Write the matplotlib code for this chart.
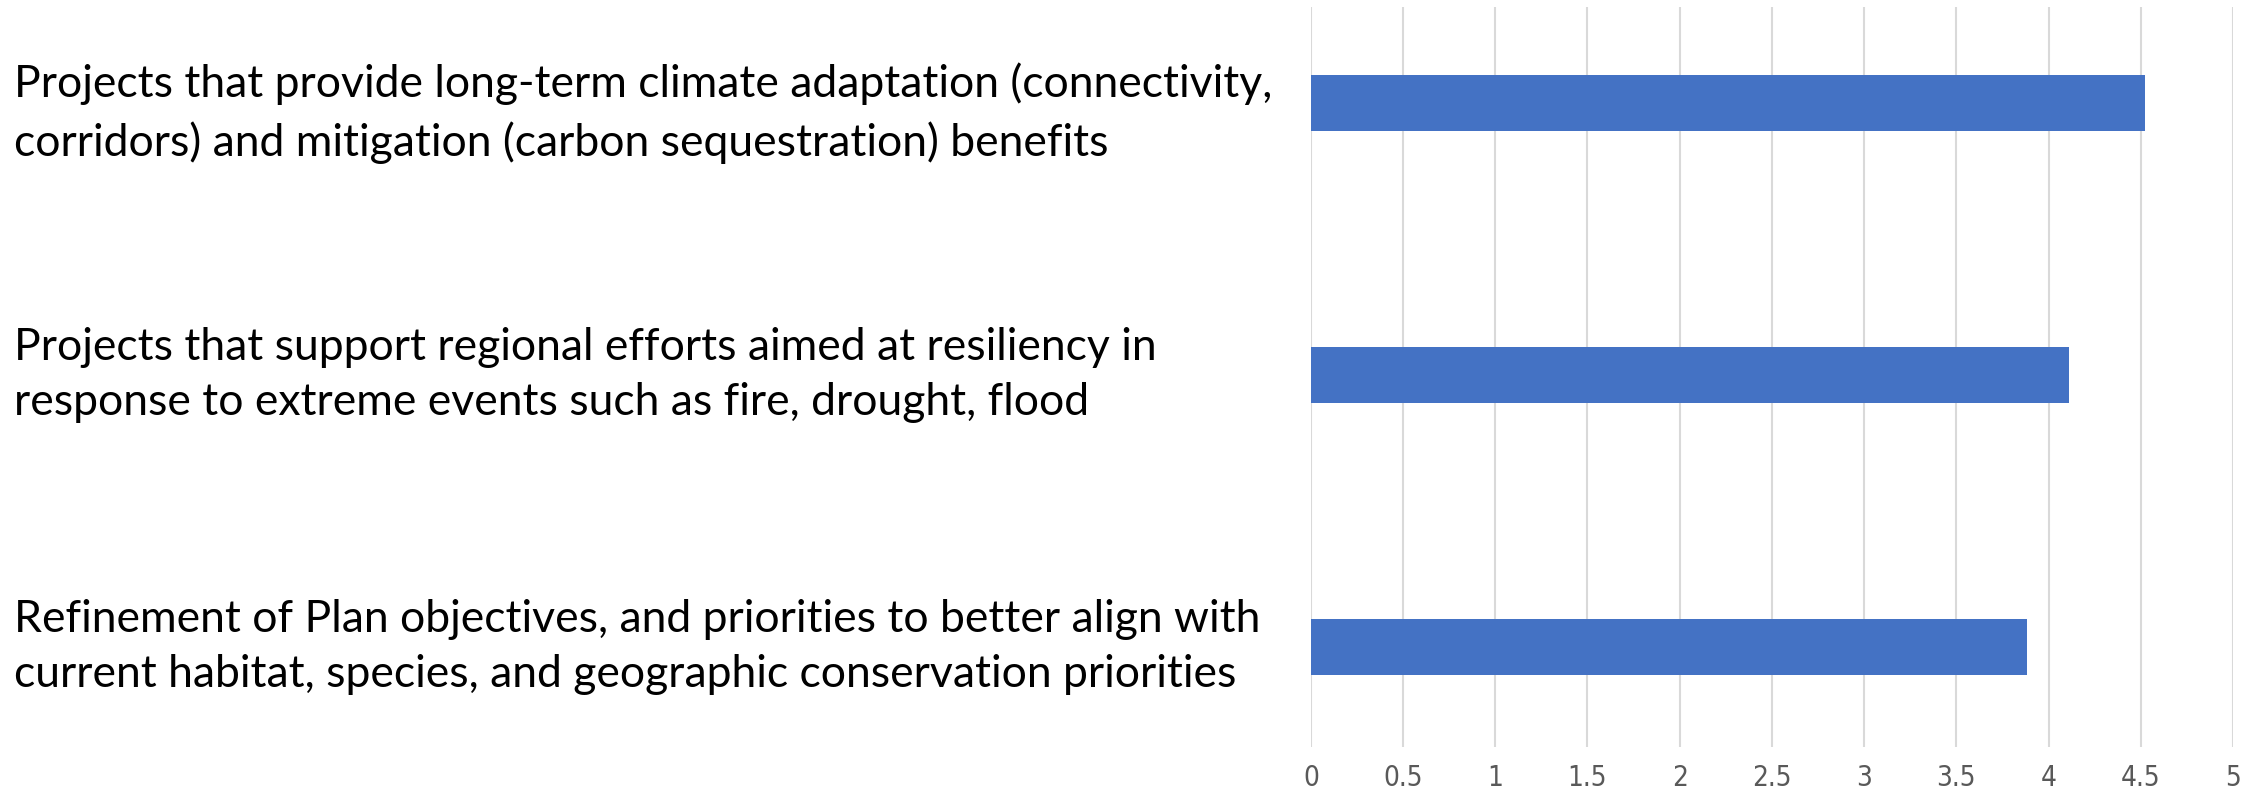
import matplotlib.pyplot as plt
from matplotlib import font_manager
from matplotlib.font_manager import FontProperties
from matplotlib.transforms import blended_transform_factory, ScaledTranslation

categories = [
    "Refinement of Plan objectives, and priorities to better align with\ncurrent habitat, species, and geographic conservation priorities",
    "Projects that support regional efforts aimed at resiliency in\nresponse to extreme events such as fire, drought, flood",
    "Projects that provide long-term climate adaptation (connectivity,\ncorridors) and mitigation (carbon sequestration) benefits",
]
values = [3.885, 4.11, 4.525]
xticks = [0, 0.5, 1, 1.5, 2, 2.5, 3, 3.5, 4, 4.5, 5]
xtick_labels = ["0", "0.5", "1", "1.5", "2", "2.5", "3", "3.5", "4", "4.5", "5"]

# narrow font for the axis numbers, if one is around
names = {f.name for f in font_manager.fontManager.ttflist}
tick_font = FontProperties(family="DejaVu Sans", size=20)
if "Liberation Sans Narrow" in names:
    tick_font = FontProperties(family="Liberation Sans Narrow", size=20)
else:
    cond = FontProperties(family="DejaVu Sans", stretch="condensed", size=20)
    if "Condensed" in font_manager.findfont(cond):
        tick_font = cond

fig = plt.figure(figsize=(22.64, 7.91), dpi=100)
ax = fig.add_axes([0.579, 0.0556, 0.4073, 0.9354])

ypos = list(range(len(categories)))
ax.barh(ypos, values, height=0.206, color="#4472C4", zorder=3)

ax.set_xlim(0, 5)
ax.set_ylim(-0.368, 2.353)
ax.set_xticks(xticks)
ax.set_xticklabels(xtick_labels, fontproperties=tick_font, color="#595959")
ax.tick_params(axis="x", length=0, pad=12)
ax.set_yticks([])
ax.grid(axis="x", color="#d9d9d9", linewidth=1.5, zorder=0)
for s in ax.spines.values():
    s.set_visible(False)

# category labels sit at the left edge of the figure
trans = blended_transform_factory(fig.transFigure, ax.transData)
nudge = [0, 0, -10]  # px, top label sits a bit low in the original
for y, label, dy in zip(ypos, categories, nudge):
    t = trans + ScaledTranslation(0, dy / 100, fig.dpi_scale_trans)
    ax.text(14 / 2264, y, label, transform=t, ha="left", va="center",
            fontsize=32, family="Lato", color="black", linespacing=1.45)

fig.savefig("out.png", dpi=100)
